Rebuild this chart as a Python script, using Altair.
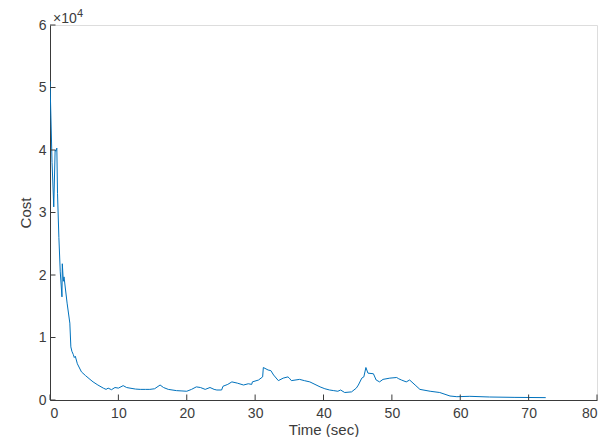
import altair as alt
import pandas as pd

time_s = [0.0, 0.3, 0.55, 0.75, 0.85, 1.0, 1.1, 1.3, 1.5, 1.75, 1.8, 1.95, 2.05, 2.5, 2.9, 3.05,
          3.2, 3.4, 3.55, 3.7, 4.0, 4.6, 5.2, 5.85, 6.3, 7.0, 7.8, 8.2, 8.5, 9.0, 9.5, 10.0,
          10.7, 11.2, 11.7, 12.5, 13.2, 14.0, 14.6, 15.3, 16.1, 16.6, 17.3, 18.5, 19.3, 20.0,
          20.7, 21.4, 22.0, 22.7, 23.4, 24.0, 24.4, 25.1, 25.3, 26.0, 26.6, 27.4, 28.3, 29.0,
          29.5, 29.6, 30.5, 31.1, 31.2, 31.9, 32.3, 32.7, 33.4, 34.1, 34.8, 35.0, 35.3, 36.5,
          37.2, 38.0, 39.5, 40.2, 40.9, 41.5, 42.1, 42.5, 43.1, 44.1, 44.8, 45.1, 45.6, 45.9,
          46.2, 46.5, 47.3, 47.7, 48.2, 48.7, 49.7, 50.7, 51.0, 51.4, 52.1, 52.6, 53.4, 54.1,
          55.6, 57.0, 58.5, 59.5, 61.4, 64.3, 68.0, 72.5]
cost = [51000, 38000, 30900, 40000, 39800, 40300, 33000, 26000, 20500, 16500, 21800, 19000,
        19700, 15500, 12300, 8500, 7800, 7300, 6800, 7000, 5800, 4500, 3900, 3300, 2900, 2400,
        1900, 1700, 1900, 1650, 2000, 1900, 2300, 2000, 1900, 1750, 1700, 1700, 1700, 1800,
        2400, 2000, 1700, 1500, 1450, 1400, 1700, 2100, 2000, 1700, 2000, 1700, 1600, 1600,
        2200, 2500, 2900, 2700, 2400, 2600, 2500, 2900, 3200, 3700, 5200, 4800, 4700, 4000,
        3100, 3500, 3700, 3500, 3100, 3300, 3100, 2900, 2100, 1800, 1600, 1500, 1400, 1600,
        1200, 1300, 1900, 2400, 3500, 3700, 5200, 4300, 4200, 3200, 2900, 3300, 3500, 3600,
        3400, 3200, 2900, 3200, 2400, 1700, 1400, 1200, 640, 530, 590, 480, 420, 380]

x_ticks = [0, 10, 20, 30, 40, 50, 60, 70, 80]
y_ticks = [0, 10000, 20000, 30000, 40000, 50000, 60000]

W, H = 547, 375
FONT = "Liberation Sans"
AX = "#3a3a3a"
LBL = "#3c3c3c"

df = pd.DataFrame({"t": time_s, "cost": cost})
xs = alt.Scale(domain=[0, 80], nice=False)
ys = alt.Scale(domain=[0, 60000], nice=False)

line = alt.Chart(df).mark_line(color="#0072BD", strokeWidth=1, clip=True).encode(
    x=alt.X("t:Q", scale=xs, title="Time (sec)",
            axis=alt.Axis(values=x_ticks, tickSize=0, grid=False, domainColor=AX,
                          labelColor=LBL, labelFont=FONT, labelFontSize=14,
                          labelPadding=6, titleFont=FONT, titleFontSize=15,
                          titleFontWeight="normal", titleColor=LBL, titlePadding=2)),
    y=alt.Y("cost:Q", scale=ys, title="Cost",
            axis=alt.Axis(values=y_ticks, tickSize=0, grid=False, domainColor=AX,
                          labelColor=LBL, labelFont=FONT, labelFontSize=14,
                          labelPadding=4, labelExpr="datum.value / 10000",
                          titleFont=FONT, titleFontSize=15, titleFontWeight="normal",
                          titleColor=LBL, titlePadding=5)),
)

xt = alt.Chart(pd.DataFrame({"v": x_ticks})).mark_rule(color=AX, strokeWidth=1).encode(
    x=alt.X("v:Q", scale=xs), y=alt.value(H), y2=alt.value(H - 5.5))
yt = alt.Chart(pd.DataFrame({"v": y_ticks})).mark_rule(color=AX, strokeWidth=1).encode(
    y=alt.Y("v:Q", scale=ys), x=alt.value(0), x2=alt.value(5.5))

expo = alt.Chart(pd.DataFrame({"s": ["×10"]})).mark_text(
    align="left", baseline="middle", font=FONT, fontSize=14, color=LBL).encode(
    text="s:N", x=alt.value(3), y=alt.value(-6.5))
expo_pow = alt.Chart(pd.DataFrame({"s": ["4"]})).mark_text(
    align="left", baseline="middle", font=FONT, fontSize=11, color=LBL).encode(
    text="s:N", x=alt.value(27), y=alt.value(-11))

chart = alt.layer(line, xt, yt, expo, expo_pow).properties(
    width=W, height=H,
    autosize=alt.AutoSizeParams(type="none"),
    padding={"left": 42, "top": 17, "right": 4, "bottom": 37},
).configure_view(stroke=None).configure(background="white")

chart.save("out.html", embed_options={"renderer": "svg", "actions": False})
